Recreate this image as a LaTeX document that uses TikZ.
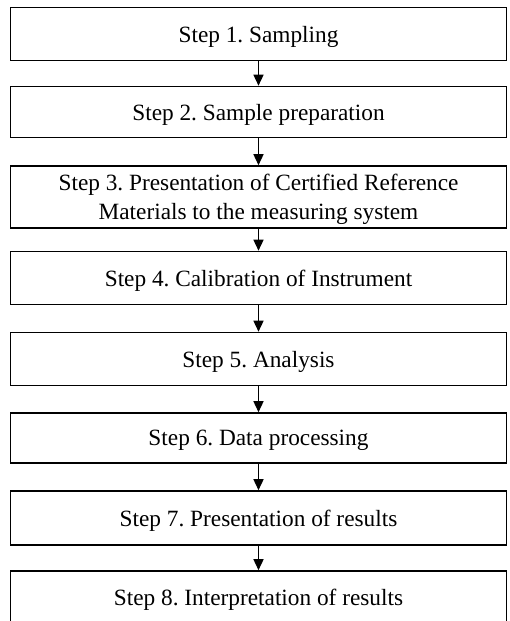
\documentclass[tikz,border=0pt]{standalone}
\usepackage{fontspec}
\setmainfont{Liberation Serif}
\usepackage{tikz}
\usetikzlibrary{arrows.meta}
\usepackage{xcolor}
\frenchspacing

\begin{document}
\begin{tikzpicture}[x=1pt,y=-1pt,>={Triangle[length=11pt,width=10pt]},
  font=\fontsize{23.3}{28.5}\selectfont,line cap=round,
  stepbox/.style={draw,line width=1.6pt,minimum width=496pt,inner sep=0pt,text depth=0pt,align=center},
  flow/.style={->,line width=1.5pt}]
\useasboundingbox[fill=white] (0,0) rectangle (510,621);
\node[stepbox,minimum height=53pt] (s1) at (258.5,34) {Step 1. Sampling};
\node[stepbox,minimum height=51pt] (s2) at (258.5,112) {Step 2. Sample preparation};
\node[stepbox,minimum height=62pt] (s3) at (258.5,197) {Step 3. Presentation of Certified Reference\\Materials to the measuring system};
\node[stepbox,minimum height=53pt] (s4) at (258.5,278) {Step 4. Calibration of Instrument};
\node[stepbox,minimum height=53pt] (s5) at (258.5,359) {Step 5. Analysis};
\node[stepbox,minimum height=50pt] (s6) at (258.5,438) {Step 6. Data processing};
\node[stepbox,minimum height=54pt] (s7) at (258.5,518) {Step 7. Presentation of results};
\node[stepbox,minimum height=52pt] (s8) at (258.5,597) {Step 8. Interpretation of results};
\draw[flow] (s1) -- (s2);
\draw[flow] (s2) -- (s3);
\draw[flow] (s3) -- (s4);
\draw[flow] (s4) -- (s5);
\draw[flow] (s5) -- (s6);
\draw[flow] (s6) -- (s7);
\draw[flow] (s7) -- (s8);
\end{tikzpicture}
\end{document}
